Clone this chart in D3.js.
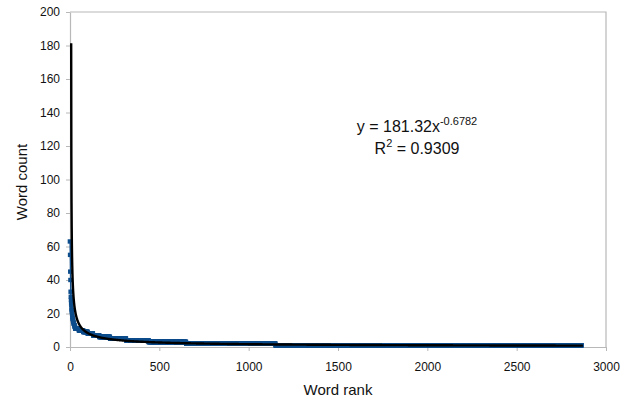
<!DOCTYPE html>
<html>
<head>
<meta charset="utf-8">
<script src="https://cdn.jsdelivr.net/npm/d3@7"></script>
<style>
  body { margin: 0; background: #fff; }
  text { font-family: "Liberation Sans", Arial, sans-serif; }
</style>
</head>
<body>
<svg id="chart" width="633" height="402"></svg>
<script>
// word counts for the top ranks (1..30)
var headCounts = [63,55,45,40,33,30,28,26,25,23,22,21,20,19,18,17,17,16,16,15,15,14,14,14,13,13,13,12,12,12];
// after that the counts come in runs: value, last rank of the run
var runValues   = [11,10,9,8,7,6,5,4,3,2,1];
var runLastRank = [50,75,100,130,165,225,315,441,651,1151,2865];

var xTicks = [0,500,1000,1500,2000,2500,3000];
var yTicks = [0,20,40,60,80,100,120,140,160,180,200];

// power trendline given on the chart
var trendA = 181.32, trendB = -0.6782, trendR2 = "0.9309";

// expand into (rank, count) points
var points = [];
headCounts.forEach(function(c, i){ points.push([i + 1, c]); });
var rank = headCounts.length + 1;
runValues.forEach(function(v, i){
	for (; rank <= runLastRank[i]; rank++) points.push([rank, v]);
});
var lastRank = points[points.length - 1][0];

var svg = d3.select("#chart");
var x = d3.scaleLinear().domain([0,3000]).range([70,606]);
var y = d3.scaleLinear().domain([0,200]).range([347,12]);

var grey = "#b8b8b8";

// frame top and right
svg.append("path")
	.attr("d", "M" + x(0) + "," + y(200) + "H" + x(3000) + "V" + y(0))
	.attr("fill", "none").attr("stroke", grey).attr("stroke-width", 1.2);

var gx = svg.append("g").attr("transform", "translate(0," + y(0) + ")")
	.call(d3.axisBottom(x).tickValues(xTicks).tickFormat(d3.format("d"))
		.tickSize(4).tickPadding(11).tickSizeOuter(0));
var gy = svg.append("g").attr("transform", "translate(" + x(0) + ",0)")
	.call(d3.axisLeft(y).tickValues(yTicks).tickFormat(d3.format("d"))
		.tickSize(4).tickPadding(6).tickSizeOuter(0));

[gx, gy].forEach(function(g){
	g.select(".domain").attr("stroke", grey).attr("stroke-width", 1.2);
	g.selectAll(".tick line").attr("stroke", grey);
	g.selectAll(".tick text").attr("fill", "#111").style("font-size", "12px");
});

// data series: thin line + small squares
var blue = "#0e4d8c";
svg.append("path")
	.datum(points)
	.attr("fill", "none").attr("stroke", blue).attr("stroke-width", 1.5)
	.attr("d", d3.line().x(function(d){ return x(d[0]); }).y(function(d){ return y(d[1]); }));

svg.append("g").selectAll("rect")
	.data(points)
	.enter()
	.append("rect")
	.attr("x", function(d){ return x(d[0]) - 2.5; })
	.attr("y", function(d){ return y(d[1]) - 2.2; })
	.attr("width", 4.4).attr("height", 4.4)
	.attr("fill", blue);

// trendline (drawn a hair to the right, like the original rendering)
var trend = d3.range(1, lastRank + 1).map(function(r){ return [r, trendA * Math.pow(r, trendB)]; });
svg.append("path")
	.datum(trend)
	.attr("transform", "translate(1,0)")
	.attr("fill", "none").attr("stroke", "#000").attr("stroke-width", 2.4)
	.attr("d", d3.line().x(function(d){ return x(d[0]); }).y(function(d){ return y(d[1]); }));

// equation
var eq = svg.append("text").attr("x", 417).attr("y", 132).attr("text-anchor", "middle")
	.style("font-size", "16px").attr("fill", "#111");
eq.append("tspan").text("y = " + trendA + "x");
eq.append("tspan").attr("dy", -7).style("font-size", "11px").text(trendB);

var r2 = svg.append("text").attr("x", 417).attr("y", 154).attr("text-anchor", "middle")
	.style("font-size", "16px").attr("fill", "#111");
r2.append("tspan").text("R");
r2.append("tspan").attr("dy", -7).style("font-size", "11px").text("2");
r2.append("tspan").attr("dy", 7).text(" = " + trendR2);

// axis titles
svg.append("text").attr("x", x(1500)).attr("y", 395).attr("text-anchor", "middle")
	.style("font-size", "15px").attr("fill", "#111").text("Word rank");
svg.append("text").attr("transform", "translate(27," + 182 + ") rotate(-90)")
	.attr("text-anchor", "middle")
	.style("font-size", "15px").attr("fill", "#111").text("Word count");
</script>
</body>
</html>
